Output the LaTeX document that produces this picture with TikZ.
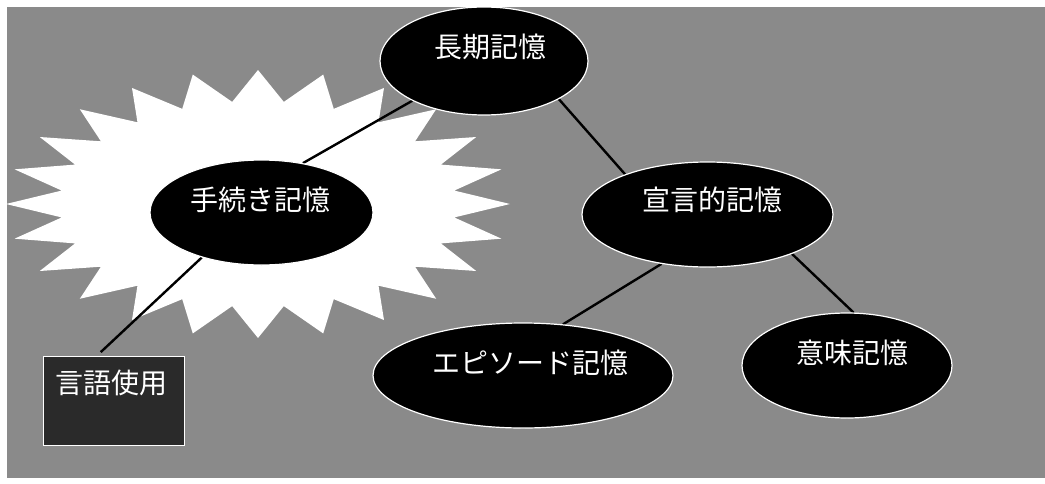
\documentclass[tikz,border=0pt]{standalone}
\usepackage{fontspec}
\newfontfamily\jpfont{Noto Sans CJK JP}
\usetikzlibrary{shapes.geometric}
\definecolor{bggray}{RGB}{138,138,138}
\definecolor{boxgray}{RGB}{42,42,42}
\pgfdeclarelayer{bglayer}
\pgfdeclarelayer{linelayer}
\pgfsetlayers{bglayer,linelayer,main}
\begin{document}
\begin{tikzpicture}[x=1pt,y=-1pt,
  mem/.style={ellipse, fill=black, draw=white, line width=1.2pt, inner sep=0pt, minimum height=105pt},
  lbl/.style={text=white, inner sep=0pt, font=\jpfont\fontsize{28}{30}\selectfont},
  link/.style={draw=black, line width=2.4pt},
  tagbox/.style={rectangle, fill=boxgray, draw=white, line width=1pt, inner sep=0pt, minimum width=141pt, minimum height=89pt}]
\useasboundingbox (0,0) rectangle (1045,483);
\begin{pgfonlayer}{bglayer}
  \fill[white] (0,0) rectangle (1045,483);
  \fill[bggray] (7,7) rectangle (1045,478);
  \fill[white] (510,204) \foreach \i in {0,...,23}{
     -- ({258+198*cos(15*\i+7.5)},{204-103*sin(15*\i+7.5)})
     -- ({258+252*cos(15*(\i+1))},{204-134*sin(15*(\i+1))}) } -- cycle;
\end{pgfonlayer}

\node[mem, minimum width=208pt, minimum height=108pt,
  label={[lbl, xshift=6pt, yshift=14pt]center:長期記憶}] (lt) at (484,61) {};
\node[mem, minimum width=251pt,
  label={[lbl, xshift=4.5pt, yshift=14.5pt]center:宣言的記憶}] (dec) at (707.5,214.5) {};
\node[mem, minimum width=223pt,
  label={[lbl, xshift=-1.5pt, yshift=12.5pt]center:手続き記憶}] (pr) at (261.5,212.5) {};
\node[mem, minimum width=300pt,
  label={[lbl, xshift=7pt, yshift=12.5pt]center:エピソード記憶}] (epi) at (523,375.5) {};
\node[mem, minimum width=210pt,
  label={[lbl, xshift=5pt, yshift=12.5pt]center:意味記憶}] (sem) at (847,365.5) {};
\node[tagbox, label={[lbl, xshift=-1.5pt, yshift=17.5pt]center:言語使用}] (box) at (113.5,400.5) {};

\begin{pgfonlayer}{linelayer}
  \draw[link] (lt.209.6) -- (pr.50);
  \draw[link, shorten >=5pt] (pr.217.7) -- (box.110);
  \draw[link] (lt.333.4) -- (dec.154.4);
  \draw[link] (dec.227.4) -- (epi.52.7);
  \draw[link] (dec.335.7) -- (sem.83.5);
\end{pgfonlayer}
\end{tikzpicture}
\end{document}
